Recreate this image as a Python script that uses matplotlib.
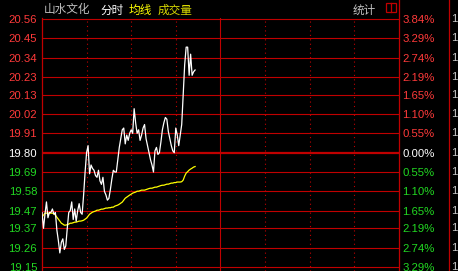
"""
Intraday time-share chart (分时图) for 山水文化, first 104 minutes of the session.
"""

import matplotlib.pyplot as plt
from matplotlib.lines import Line2D
from matplotlib.patches import Rectangle

# --- Data ---
PREV_CLOSE = 19.80
TOTAL_MINUTES = 240

# last price per minute
price = [
    19.46, 19.37, 19.45, 19.52, 19.43, 19.46, 19.46, 19.48, 19.45, 19.46,
    19.36, 19.30, 19.23, 19.29, 19.31, 19.25, 19.27, 19.37, 19.46, 19.47,
    19.52, 19.42, 19.48, 19.41, 19.47, 19.51, 19.46, 19.45, 19.56, 19.69,
    19.80, 19.84, 19.68, 19.73, 19.71, 19.70, 19.67, 19.66, 19.70, 19.64,
    19.62, 19.66, 19.58, 19.56, 19.53, 19.54, 19.59, 19.65, 19.70, 19.69,
    19.69, 19.76, 19.83, 19.88, 19.93, 19.94, 19.85, 19.90, 19.87, 19.91,
    19.93, 19.91, 20.05, 19.97, 19.91, 19.93, 19.87, 19.90, 19.94, 19.96,
    19.88, 19.84, 19.80, 19.76, 19.73, 19.69, 19.81, 19.83, 19.79, 19.80,
    19.86, 19.93, 19.97, 20.00, 19.99, 19.92, 19.88, 19.84, 19.81, 19.80,
    19.94, 19.90, 19.84, 19.90, 19.96, 20.13, 20.30, 20.40, 20.40, 20.24,
    20.36, 20.24, 20.26, 20.27,
]

# average price (均线) per minute
avg_price = [
    19.433, 19.445, 19.456, 19.456, 19.456, 19.456, 19.456, 19.456, 19.453, 19.445,
    19.433, 19.422, 19.411, 19.399, 19.394, 19.388, 19.388, 19.391, 19.394, 19.399,
    19.399, 19.402, 19.405, 19.405, 19.408, 19.411, 19.411, 19.413, 19.416, 19.422,
    19.428, 19.439, 19.450, 19.456, 19.462, 19.465, 19.468, 19.473, 19.473, 19.476,
    19.479, 19.479, 19.482, 19.485, 19.485, 19.487, 19.487, 19.490, 19.490, 19.496,
    19.499, 19.502, 19.507, 19.513, 19.519, 19.530, 19.541, 19.547, 19.553, 19.559,
    19.564, 19.570, 19.573, 19.576, 19.581, 19.581, 19.584, 19.587, 19.587, 19.587,
    19.590, 19.593, 19.596, 19.598, 19.598, 19.601, 19.604, 19.604, 19.607, 19.610,
    19.613, 19.615, 19.615, 19.618, 19.621, 19.621, 19.624, 19.627, 19.627, 19.630,
    19.630, 19.633, 19.633, 19.633, 19.635, 19.644, 19.667, 19.684, 19.692, 19.701,
    19.707, 19.712, 19.718, 19.721,
]

price_ticks = [20.56, 20.45, 20.34, 20.23, 20.13, 20.02, 19.91, 19.80,
               19.69, 19.58, 19.47, 19.37, 19.26, 19.15]
pct_labels = ["3.84%", "3.29%", "2.74%", "2.19%", "1.65%", "1.10%", "0.55%", "0.00%",
              "0.55%", "1.10%", "1.65%", "2.19%", "2.74%", "3.29%"]
quarter_minutes = [30, 60, 90, 150, 180, 210]

GRID_RED = "#c00000"
UP_RED = "#ff3a3a"
DOWN_GREEN = "#22d822"

# --- Figure ---
W, H = 458, 271
fig = plt.figure(figsize=(W / 100, H / 100), dpi=100, facecolor="black")

px_per_price = 248 / (price_ticks[0] - price_ticks[-1])
top_px, left_px, right_px = 18, 42, 398.7
ax = fig.add_axes([left_px / W, 0, (right_px - left_px) / W, (H - top_px) / H])
ax.set_facecolor("black")
ax.set_xlim(0, TOTAL_MINUTES)
ax.set_ylim(price_ticks[0] - (H - 19) / px_per_price, price_ticks[0] + 1 / px_per_price)

# grid
for p in price_ticks:
    ax.axhline(p, color=GRID_RED, lw=1.6 if p == PREV_CLOSE else 0.8, zorder=1)
for m in quarter_minutes:
    ax.axvline(m, color=GRID_RED, lw=0.8, ls=(0, (1, 3)), zorder=1)
ax.axvline(TOTAL_MINUTES / 2, color=GRID_RED, lw=0.8, zorder=1)

# lines
minutes = range(len(price))
ax.plot(minutes, price, color="white", lw=0.9, zorder=3)
ax.plot(minutes, avg_price, color="#ffff00", lw=0.9, zorder=2)

# spines
for side in ["top", "bottom", "right"]:
    ax.spines[side].set_visible(False)
ax.spines["left"].set_color(GRID_RED)
ax.spines["left"].set_linewidth(0.9)
ax.set_xticks([])


def tick_color(p):
    if abs(p - PREV_CLOSE) < 1e-6:
        return "white"
    return UP_RED if p > PREV_CLOSE else DOWN_GREEN


ax.set_yticks(price_ticks)
ax.set_yticklabels([f"{p:.2f}" for p in price_ticks], family="Liberation Sans", fontsize=8.2)
ax.tick_params(axis="y", length=0, pad=3.5)
for lbl, p in zip(ax.get_yticklabels(), price_ticks):
    lbl.set_color(tick_color(p))

ax2 = ax.twinx()
ax2.set_ylim(ax.get_ylim())
ax2.set_yticks(price_ticks)
ax2.set_yticklabels(pct_labels, family="Liberation Sans", fontsize=8.2)
ax2.tick_params(axis="y", length=0, pad=2.5)
for lbl, p in zip(ax2.get_yticklabels(), price_ticks):
    lbl.set_color(tick_color(p))
for side in ax2.spines:
    ax2.spines[side].set_visible(False)

# right-hand panel borders, full height
fig.add_artist(Line2D([right_px / W] * 2, [0, 1], color=GRID_RED, lw=0.9))
fig.add_artist(Line2D([449 / W] * 2, [0, 1], color=GRID_RED, lw=0.9))
for p in price_ticks:
    ax.annotate("1", xy=(1, p), xycoords=ax.get_yaxis_transform(),
                xytext=(451 - right_px, 0), textcoords="offset pixels",
                ha="left", va="center", color="#c8c8c8", fontsize=8.2,
                family="Liberation Sans", annotation_clip=False)

# header
cjk = ["Noto Sans CJK SC", "DejaVu Sans"]
head_y = 1 - 10 / H
fig.text(44 / W, head_y, "山水文化", color="#c0c0c0", fontsize=8.4, family=cjk, va="center")
fig.text(100 / W, head_y, "分时", color="white", fontsize=8.4, family=cjk, va="center")
fig.text(129 / W, head_y, "均线", color="#ffff00", fontsize=8.4, family=cjk, va="center")
fig.text(158 / W, head_y, "成交量", color="#d8d800", fontsize=8.4, family=cjk, va="center")
fig.text(353 / W, head_y, "统计", color="#c0c0c0", fontsize=8.4, family=cjk, va="center")
fig.add_artist(Rectangle((386 / W, 1 - 12 / H), 10 / W, 9 / H, fill=False,
                         edgecolor=GRID_RED, lw=0.9, transform=fig.transFigure))
fig.add_artist(Line2D([391 / W] * 2, [1 - 12 / H, 1 - 3 / H], color=GRID_RED, lw=0.9))

fig.savefig("out.png", dpi=100, facecolor="black")
